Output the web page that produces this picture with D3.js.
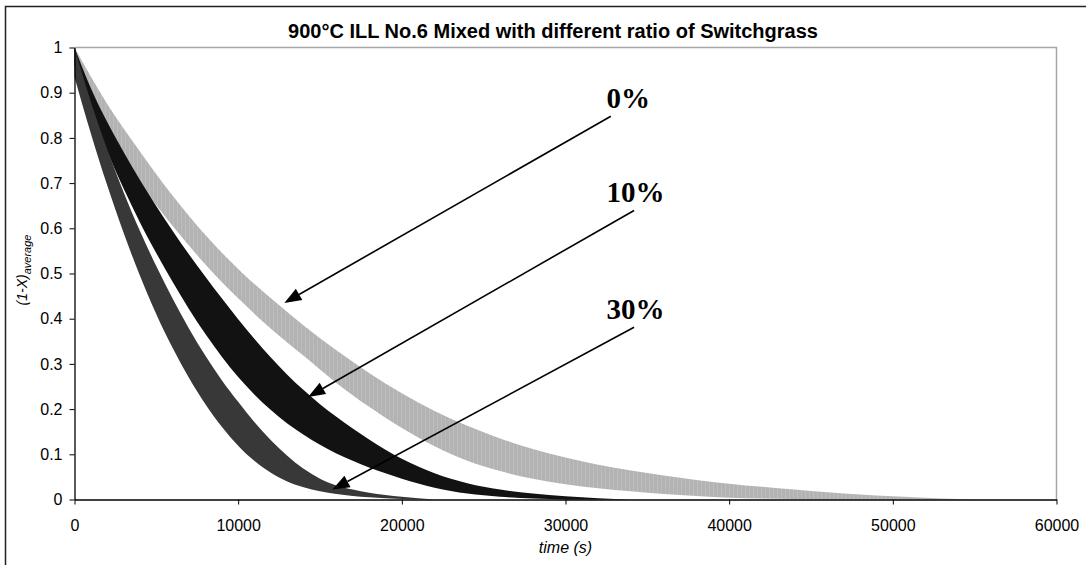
<!DOCTYPE html>
<html>
<head>
<meta charset="utf-8">
<script src="https://cdn.jsdelivr.net/npm/d3@7"></script>
<style>
  body { margin: 0; background: #fff; }
  svg { display: block; font-family: "Liberation Sans", Arial, sans-serif; }
</style>
</head>
<body>
<svg id="chart" width="1086" height="565"></svg>
<script>
// ---- chart text ----
const chartTitle = "900°C ILL No.6 Mixed with different ratio of Switchgrass";
const xTitle = "time (s)";
const xTicks = [0, 10000, 20000, 30000, 40000, 50000, 60000];
const yTicks = [0, 0.1, 0.2, 0.3, 0.4, 0.5, 0.6, 0.7, 0.8, 0.9, 1];

// ---- 0% switchgrass: band of (1-X) average, upper / lower limits ----
const time0  = [0, 2000, 4000, 6000, 8000, 10000, 12000, 14000, 16000, 18000, 20000, 22000, 24000, 26000, 28000, 30000, 32000, 34000, 36000, 38000, 40000, 42000, 44000, 46000, 48000, 50000, 52000, 54000, 55000];
const upper0 = [1.00, 0.875, 0.77, 0.672, 0.585, 0.51, 0.445, 0.385, 0.33, 0.28, 0.235, 0.196, 0.163, 0.135, 0.112, 0.093, 0.077, 0.064, 0.053, 0.043, 0.035, 0.028, 0.022, 0.016, 0.011, 0.007, 0.004, 0.001, 0];
const lower0 = [0.95, 0.81, 0.70, 0.605, 0.52, 0.445, 0.378, 0.318, 0.258, 0.205, 0.158, 0.118, 0.086, 0.063, 0.046, 0.034, 0.025, 0.018, 0.012, 0.008, 0.004, 0.002, 0.001, 0, 0, 0, 0, 0, 0];

// ---- 10% switchgrass ----
const time10  = [0, 1000, 2000, 3000, 4000, 5000, 6000, 7000, 8000, 9000, 10000, 11000, 12000, 13000, 14000, 15000, 16000, 17000, 18000, 19000, 20000, 22000, 24000, 26000, 28000, 30000, 32000, 34000];
const upper10 = [1.00, 0.91, 0.835, 0.769, 0.707, 0.649, 0.594, 0.542, 0.493, 0.445, 0.399, 0.355, 0.314, 0.276, 0.242, 0.211, 0.183, 0.157, 0.133, 0.11, 0.09, 0.058, 0.036, 0.022, 0.013, 0.007, 0.003, 0];
const lower10 = [0.96, 0.86, 0.77, 0.688, 0.613, 0.545, 0.481, 0.421, 0.366, 0.316, 0.271, 0.232, 0.198, 0.168, 0.143, 0.121, 0.102, 0.086, 0.071, 0.058, 0.046, 0.026, 0.013, 0.006, 0.002, 0, 0, 0];

// ---- 30% switchgrass ----
const time30  = [0, 1000, 2000, 3000, 4000, 5000, 6000, 7000, 8000, 9000, 10000, 11000, 12000, 13000, 14000, 15000, 16000, 17000, 18000, 20000, 22000];
const upper30 = [1.00, 0.88, 0.775, 0.68, 0.594, 0.516, 0.444, 0.378, 0.318, 0.264, 0.216, 0.171, 0.131, 0.097, 0.068, 0.046, 0.031, 0.022, 0.015, 0.006, 0];
const lower30 = [0.935, 0.81, 0.695, 0.59, 0.495, 0.41, 0.335, 0.269, 0.211, 0.161, 0.119, 0.085, 0.059, 0.04, 0.027, 0.018, 0.012, 0.008, 0.005, 0.001, 0];

// ---- arrow annotations (data coordinates) ----
const arrowLabels   = ["0%", "10%", "30%"];
const arrowTipTime  = [12820, 14273, 15764];
const arrowTipVal   = [0.435, 0.227, 0.022];
const arrowTailTime = [32770, 34190, 34190];
const arrowTailVal  = [0.848, 0.6395, 0.381];
const arrowLabelTime = 32500;

// ---- layout ----
const svg = d3.select("#chart");
const W = 1086, H = 565;
const plot = { left: 74.5, right: 1056.5, top: 47.5, bottom: 499.5 };

const x = d3.scaleLinear().domain([0, 60000]).range([plot.left, plot.right]);
const y = d3.scaleLinear().domain([0, 1]).range([plot.bottom, plot.top]);

// outer chart frame (runs off the right and bottom edges)
svg.append("rect")
  .attr("x", 5.5).attr("y", 6.5)
  .attr("width", W + 20).attr("height", H + 20)
  .attr("fill", "#fff").attr("stroke", "#222").attr("stroke-width", 1.5);

// plot frame: top and right in grey
svg.append("path")
  .attr("d", `M${plot.left},${plot.top}H${plot.right}V${plot.bottom}`)
  .attr("fill", "none").attr("stroke", "#a6a6a6").attr("stroke-width", 1.5);

// hatch used by the light band (dense vertical error bars)
const defs = svg.append("defs");
const pat = defs.append("pattern")
  .attr("id", "lightBars").attr("patternUnits", "userSpaceOnUse")
  .attr("width", 4).attr("height", 6);
pat.append("rect").attr("width", 4).attr("height", 6).attr("fill", "#b3b3b3");
pat.append("rect").attr("x", 1).attr("width", 1).attr("height", 6).attr("fill", "#bdbdbd");

const series = [
  { name: "0%",  time: time0,  upper: upper0,  lower: lower0,  fill: "url(#lightBars)" },
  { name: "10%", time: time10, upper: upper10, lower: lower10, fill: "#121212" },
  { name: "30%", time: time30, upper: upper30, lower: lower30, fill: "#383838" }
];

const area = d3.area()
  .x(d => x(d.t))
  .y0(d => y(d.lo))
  .y1(d => y(d.hi))
  .curve(d3.curveMonotoneX);

const bands = svg.append("g").attr("class", "bands");
series.forEach(s => {
  const pts = s.time.map((t, i) => ({ t, hi: s.upper[i], lo: s.lower[i] }));
  bands.append("path")
    .datum(pts)
    .attr("d", area)
    .attr("fill", s.fill);
});

// axes
const yAxis = d3.axisLeft(y).tickValues(yTicks).tickSize(5).tickSizeOuter(0).tickPadding(7)
  .tickFormat(d => d3.format("")(+d.toFixed(1)));
const xAxis = d3.axisBottom(x).tickValues(xTicks).tickSize(5).tickSizeOuter(0).tickPadding(15)
  .tickFormat(d3.format("d"));

const gy = svg.append("g").attr("transform", `translate(${plot.left},0)`).call(yAxis);
const gx = svg.append("g").attr("transform", `translate(0,${plot.bottom})`).call(xAxis);
[gx, gy].forEach(g => {
  g.selectAll("path.domain").attr("stroke", "#000").attr("stroke-width", 1.3);
  g.selectAll(".tick line").attr("stroke", "#000");
  g.selectAll(".tick text").attr("fill", "#000")
    .style("font-family", '"Liberation Sans", Arial, sans-serif').style("font-size", "16px");
});

// title
svg.append("text")
  .attr("x", 553).attr("y", 38)
  .attr("text-anchor", "middle")
  .style("font-weight", "bold").style("font-size", "20px")
  .text(chartTitle);

// x-axis title
svg.append("text")
  .attr("x", (plot.left + plot.right) / 2).attr("y", 553)
  .attr("text-anchor", "middle")
  .style("font-style", "italic").style("font-size", "16px")
  .text(xTitle);

// y-axis title with subscript
const yt = svg.append("text")
  .attr("transform", "translate(27,270) rotate(-90)")
  .attr("text-anchor", "middle")
  .style("font-style", "italic").style("font-size", "14px");
yt.append("tspan").text("(1-X)");
yt.append("tspan").attr("dy", 4).style("font-size", "11px").text("average");

// arrows with labels
const ann = svg.append("g").attr("class", "annotations");
arrowLabels.forEach((lab, i) => {
  const x0 = x(arrowTailTime[i]), y0 = y(arrowTailVal[i]);
  const x1 = x(arrowTipTime[i]),  y1 = y(arrowTipVal[i]);
  const ang = Math.atan2(y1 - y0, x1 - x0);
  const headLen = 17, headHalf = 6.5;
  const bx = x1 - headLen * Math.cos(ang), by = y1 - headLen * Math.sin(ang);
  ann.append("line")
    .attr("x1", x0).attr("y1", y0).attr("x2", bx).attr("y2", by)
    .attr("stroke", "#000").attr("stroke-width", 1.6);
  const px = -Math.sin(ang), py = Math.cos(ang);
  ann.append("path")
    .attr("d", `M${x1},${y1}L${bx + headHalf * px},${by + headHalf * py}L${bx - headHalf * px},${by - headHalf * py}Z`)
    .attr("fill", "#000");
  ann.append("text")
    .attr("x", x(arrowLabelTime)).attr("y", y0 - 8)
    .style("font-family", '"Liberation Serif", "Times New Roman", serif')
    .style("font-weight", "bold").style("font-size", "29px")
    .text(lab);
});
</script>
</body>
</html>
